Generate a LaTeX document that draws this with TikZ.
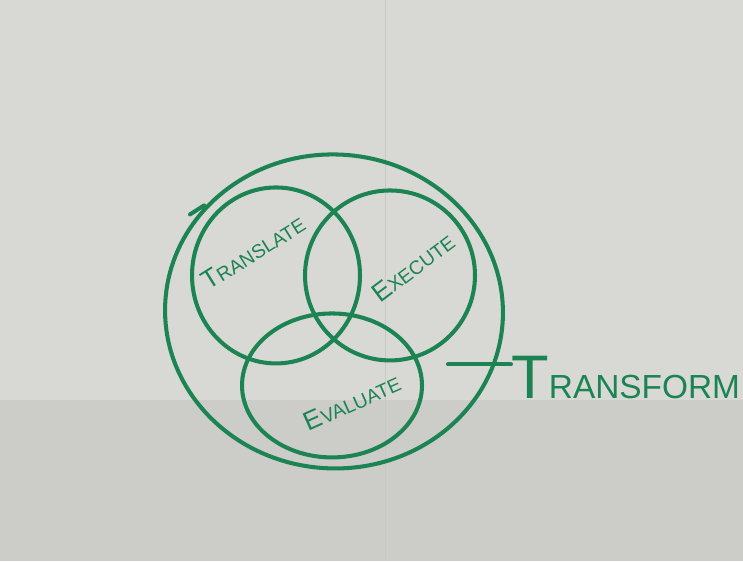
\documentclass[tikz,border=0pt]{standalone}
\usepackage{fontspec}
\setmainfont{Liberation Sans}
\usetikzlibrary{shapes.geometric,positioning,calc}
\definecolor{papel}{RGB}{216,216,213}
\definecolor{papelosc}{RGB}{204,204,201}
\definecolor{marcador}{RGB}{28,132,82}
\newcommand{\letrota}[2]{{\fontsize{#2}{#2}\selectfont #1}}

\begin{document}
\begin{tikzpicture}[x=0.02cm,y=-0.02cm,
aro/.style={ellipse,draw=marcador,line width=2.3pt,inner sep=0pt},
trazo/.style={draw=marcador,line width=2.3pt,line cap=round},
rotulo/.style={text=marcador,font=\fontsize{11}{13}\selectfont,inner sep=0pt}
]
% papel
\fill[papel] (0,0) rectangle (743,561);
\fill[papelosc] (0,400) rectangle (743,561);
\draw[papel!92!black,line width=0.5pt] (385,0) -- (385,561);

% circulos
\node[aro,minimum width=6.76cm,minimum height=6.28cm,rotate=-3] (transformar) at (334,311) {};
\node[aro,minimum width=3.36cm,minimum height=3.52cm] (traducir) at (276,275) {};
\node[aro,minimum width=3.4cm,minimum height=3.4cm] (ejecutar) at (390,275) {};
\node[aro,minimum width=3.6cm,minimum height=2.88cm] (evaluar) at (332,385) {};
\draw[trazo] (190,214) -- (204,205);

% rotulos
\node[rotulo,rotate=32] (lbltraducir) at (253,252) {\letrota{T}{15}RANSLATE};
\node[rotulo,rotate=37] (lblejecutar) at (413,267) {\letrota{E}{15}XECUTE};
\node[rotulo,rotate=24] (lblevaluar) at (352,402) {\letrota{E}{15}VALUATE};

\node[rotulo,font=\fontsize{19}{21}\selectfont,anchor=base west] (lbltransformar) at (511,398) {\letrota{T}{35}RANSFORM};
\coordinate (guia) at (448,364);
\draw[trazo] (guia) -- (lbltransformar.west |- guia);
\end{tikzpicture}
\end{document}
